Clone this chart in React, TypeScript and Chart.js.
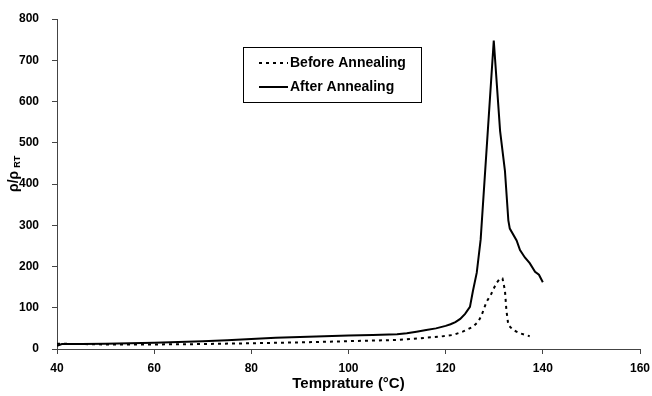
import React, { useEffect, useRef } from "react";
import { Chart, registerables } from "chart.js";

Chart.register(...registerables);

// After annealing (solid line)
const afterTemp = [40, 41, 45, 50, 55, 60, 65, 70, 75, 80, 85, 90, 95, 100, 105, 110, 112, 114, 116, 118, 120, 121, 122, 123, 124, 125, 125.6, 126.4, 127.2, 129.9, 131.2, 132.2, 132.9, 133.2, 134.6, 135.3, 136.3, 137.3, 138.4, 139.2, 140];
const afterRatio = [8, 12, 12, 13, 14, 15, 17, 19, 21, 24, 27, 29, 31, 33, 34, 36, 38, 42, 46, 50, 56, 60, 65, 73, 85, 102, 140, 185, 265, 748, 529, 432, 312, 292, 263, 240, 222, 208, 187, 180, 162];

// Before annealing (dotted line)
const beforeTemp = [40, 45, 50, 60, 70, 80, 90, 100, 110, 114.7, 118.8, 121.5, 123.5, 125.6, 126.7, 127.4, 128.4, 129.4, 130.4, 131.2, 131.7, 132.2, 132.5, 132.9, 133.9, 135.3, 137.3];
const beforeRatio = [13, 12, 11, 11, 12, 14, 16, 19, 22, 26, 30, 34, 42, 54, 66, 82, 114, 134, 159, 171, 171, 142, 94, 58, 46, 38, 31];

const xTicks = [40, 60, 80, 100, 120, 140, 160];
const yTicks = [0, 100, 200, 300, 400, 500, 600, 700, 800];

const seriesNames = ["Before Annealing", "After Annealing"];
const xTitle = "Temprature (°C)";

const FONT = '"Liberation Sans", Arial, sans-serif';

const overlayPlugin = {
  id: "overlay",
  afterDraw(chart: any) {
    const ctx = chart.ctx as CanvasRenderingContext2D;
    ctx.save();
    ctx.fillStyle = "#000";
    // x axis title
    ctx.font = `bold 15px ${FONT}`;
    ctx.textAlign = "center";
    ctx.textBaseline = "middle";
    const area = chart.chartArea;
    ctx.fillText(xTitle, (area.left + area.right) / 2, 384);

    // y axis title: ρ/ρ with subscript RT
    ctx.save();
    ctx.translate(14, 192);
    ctx.rotate(-Math.PI / 2);
    ctx.textAlign = "left";
    ctx.textBaseline = "alphabetic";
    ctx.font = `bold 14px ${FONT}`;
    const main = "ρ/ρ";
    ctx.fillText(main, 0, 4);
    const w = ctx.measureText(main).width;
    ctx.font = `bold 9px ${FONT}`;
    ctx.fillText("RT", w + 3, 6);
    ctx.restore();

    // legend box
    ctx.strokeStyle = "#000";
    ctx.lineWidth = 1;
    ctx.strokeRect(243.5, 47.5, 178, 55);
    const rows = [63, 87];
    const dashes = [[3, 4], []];
    rows.forEach((y, i) => {
      ctx.beginPath();
      ctx.setLineDash(dashes[i]);
      ctx.lineWidth = 2;
      ctx.moveTo(259, y);
      ctx.lineTo(288, y);
      ctx.stroke();
      ctx.setLineDash([]);
      ctx.font = `bold 14px ${FONT}`;
      ctx.textAlign = "left";
      ctx.textBaseline = "middle";
      ctx.fillText(seriesNames[i], 290, y);
    });
    ctx.restore();
  },
};

export default function App() {
  const ref = useRef<HTMLCanvasElement | null>(null);
  useEffect(() => {
    document.body.style.margin = "0";
    const canvas = ref.current!;
    const chart = new Chart(canvas, {
      type: "line",
      data: {
        datasets: [
          {
            label: seriesNames[0],
            data: beforeTemp.map((t, i) => ({ x: t, y: beforeRatio[i] })),
            borderColor: "#000",
            borderWidth: 2,
            borderDash: [3, 4],
            pointRadius: 0,
            fill: false,
            tension: 0,
          },
          {
            label: seriesNames[1],
            data: afterTemp.map((t, i) => ({ x: t, y: afterRatio[i] })),
            borderColor: "#000",
            borderWidth: 2,
            pointRadius: 0,
            fill: false,
            tension: 0,
          },
        ],
      },
      options: {
        animation: false,
        responsive: false,
        maintainAspectRatio: false,
        layout: { padding: { top: 19, right: 12, left: 0, bottom: 0 } },
        plugins: { legend: { display: false }, tooltip: { enabled: false } },
        scales: {
          x: {
            type: "linear",
            min: xTicks[0],
            max: xTicks[xTicks.length - 1],
            afterBuildTicks: (s: any) => {
              s.ticks = xTicks.map((v) => ({ value: v }));
            },
            afterFit: (s: any) => {
              s.height = 47;
              s.paddingLeft = 0;
              s.paddingRight = 0;
            },
            grid: { drawOnChartArea: false, drawTicks: true, tickLength: 5, color: "#444" },
            border: { display: true, color: "#444", width: 1 },
            ticks: { color: "#000", font: { family: FONT, size: 12, weight: "bold" }, padding: 7, maxRotation: 0 },
          },
          y: {
            type: "linear",
            min: yTicks[0],
            max: yTicks[yTicks.length - 1],
            afterBuildTicks: (s: any) => {
              s.ticks = yTicks.map((v) => ({ value: v }));
            },
            afterFit: (s: any) => {
              s.width = 57;
              s.paddingTop = 0;
              s.paddingBottom = 0;
            },
            grid: { drawOnChartArea: false, drawTicks: true, tickLength: 5, color: "#444" },
            border: { display: true, color: "#444", width: 1 },
            ticks: { color: "#000", font: { family: FONT, size: 12, weight: "bold" }, padding: 13 },
          },
        },
      },
      plugins: [overlayPlugin],
    });
    return () => chart.destroy();
  }, []);
  return (
    <div style={{ width: 652, height: 396 }}>
      <canvas ref={ref} width={652} height={396} style={{ width: 652, height: 396, display: "block" }} />
    </div>
  );
}
